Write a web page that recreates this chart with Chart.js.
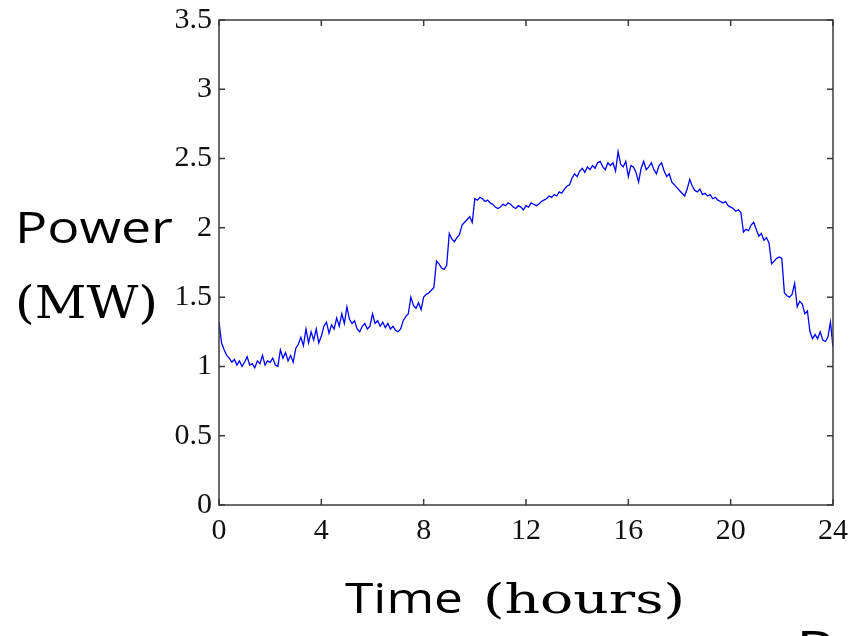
<!DOCTYPE html>
<html>
<head>
<meta charset="utf-8">
<script src="https://cdn.jsdelivr.net/npm/chart.js@4.4.0/dist/chart.umd.min.js"></script>
<style>
html, body { margin: 0; padding: 0; background: #fff; }
#wrap { position: relative; width: 852px; height: 636px; }
</style>
</head>
<body>
<div id="wrap"><canvas id="load-chart" width="852" height="636"></canvas></div>
<script>
// 1日の電力負荷 (0.1時間ごと, 図から読み取り)
const times = [
  0.0, 0.1, 0.2, 0.3, 0.4, 0.5, 0.6, 0.7, 0.8, 0.9,
  1.0, 1.1, 1.2, 1.3, 1.4, 1.5, 1.6, 1.7, 1.8, 1.9,
  2.0, 2.1, 2.2, 2.3, 2.4, 2.5, 2.6, 2.7, 2.8, 2.9,
  3.0, 3.1, 3.2, 3.3, 3.4, 3.5, 3.6, 3.7, 3.8, 3.9,
  4.0, 4.1, 4.2, 4.3, 4.4, 4.5, 4.6, 4.7, 4.8, 4.9,
  5.0, 5.1, 5.2, 5.3, 5.4, 5.5, 5.6, 5.7, 5.8, 5.9,
  6.0, 6.1, 6.2, 6.3, 6.4, 6.5, 6.6, 6.7, 6.8, 6.9,
  7.0, 7.1, 7.2, 7.3, 7.4, 7.5, 7.6, 7.7, 7.8, 7.9,
  8.0, 8.1, 8.2, 8.3, 8.4, 8.5, 8.6, 8.7, 8.8, 8.9,
  9.0, 9.1, 9.2, 9.3, 9.4, 9.5, 9.6, 9.7, 9.8, 9.9,
  10.0, 10.1, 10.2, 10.3, 10.4, 10.5, 10.6, 10.7, 10.8, 10.9,
  11.0, 11.1, 11.2, 11.3, 11.4, 11.5, 11.6, 11.7, 11.8, 11.9,
  12.0, 12.1, 12.2, 12.3, 12.4, 12.5, 12.6, 12.7, 12.8, 12.9,
  13.0, 13.1, 13.2, 13.3, 13.4, 13.5, 13.6, 13.7, 13.8, 13.9,
  14.0, 14.1, 14.2, 14.3, 14.4, 14.5, 14.6, 14.7, 14.8, 14.9,
  15.0, 15.1, 15.2, 15.3, 15.4, 15.5, 15.6, 15.7, 15.8, 15.9,
  16.0, 16.1, 16.2, 16.3, 16.4, 16.5, 16.6, 16.7, 16.8, 16.9,
  17.0, 17.1, 17.2, 17.3, 17.4, 17.5, 17.6, 17.7, 17.8, 17.9,
  18.0, 18.1, 18.2, 18.3, 18.4, 18.5, 18.6, 18.7, 18.8, 18.9,
  19.0, 19.1, 19.2, 19.3, 19.4, 19.5, 19.6, 19.7, 19.8, 19.9,
  20.0, 20.1, 20.2, 20.3, 20.4, 20.5, 20.6, 20.7, 20.8, 20.9,
  21.0, 21.1, 21.2, 21.3, 21.4, 21.5, 21.6, 21.7, 21.8, 21.9,
  22.0, 22.1, 22.2, 22.3, 22.4, 22.5, 22.6, 22.7, 22.8, 22.9,
  23.0, 23.1, 23.2, 23.3, 23.4, 23.5, 23.6, 23.7, 23.8, 23.9,
  24.0
];

const power = [
  1.32, 1.17, 1.12, 1.08, 1.06, 1.03, 1.05, 1.01, 1.04, 1.00,
  1.03, 1.07, 1.01, 1.02, 0.99, 1.04, 1.02, 1.08, 1.01, 1.04,
  1.03, 1.06, 1.01, 1.00, 1.12, 1.06, 1.10, 1.04, 1.08, 1.03,
  1.13, 1.16, 1.21, 1.15, 1.27, 1.17, 1.25, 1.19, 1.27, 1.17,
  1.22, 1.29, 1.32, 1.24, 1.30, 1.27, 1.35, 1.29, 1.38, 1.31,
  1.43, 1.34, 1.31, 1.33, 1.27, 1.25, 1.29, 1.31, 1.27, 1.29,
  1.38, 1.31, 1.33, 1.29, 1.32, 1.28, 1.31, 1.27, 1.29, 1.26,
  1.25, 1.27, 1.33, 1.36, 1.38, 1.50, 1.44, 1.42, 1.46, 1.41,
  1.50, 1.52, 1.53, 1.55, 1.57, 1.76, 1.74, 1.71, 1.70, 1.73,
  1.96, 1.92, 1.90, 1.93, 1.95, 2.02, 2.04, 2.06, 2.08, 2.04,
  2.21, 2.20, 2.22, 2.21, 2.19, 2.20, 2.18, 2.17, 2.15, 2.14,
  2.15, 2.17, 2.16, 2.18, 2.17, 2.15, 2.14, 2.16, 2.15, 2.13,
  2.16, 2.15, 2.18, 2.17, 2.16, 2.17, 2.19, 2.20, 2.21, 2.23,
  2.22, 2.24, 2.23, 2.26, 2.25, 2.28, 2.30, 2.31, 2.36, 2.39,
  2.37, 2.41, 2.43, 2.40, 2.44, 2.42, 2.45, 2.43, 2.47, 2.48,
  2.44, 2.42, 2.47, 2.45, 2.47, 2.41, 2.55, 2.46, 2.44, 2.48,
  2.37, 2.45, 2.44, 2.40, 2.33, 2.43, 2.48, 2.42, 2.44, 2.47,
  2.42, 2.39, 2.45, 2.47, 2.41, 2.37, 2.39, 2.33, 2.31, 2.29,
  2.27, 2.25, 2.23, 2.28, 2.35, 2.30, 2.27, 2.26, 2.28, 2.24,
  2.25, 2.23, 2.24, 2.21, 2.22, 2.20, 2.19, 2.18, 2.19, 2.16,
  2.15, 2.14, 2.12, 2.13, 2.11, 1.97, 1.99, 1.98, 2.02, 2.04,
  1.99, 1.94, 1.96, 1.91, 1.93, 1.89, 1.74, 1.76, 1.78, 1.79,
  1.78, 1.53, 1.51, 1.50, 1.52, 1.60, 1.43, 1.47, 1.45, 1.38,
  1.40, 1.25, 1.20, 1.23, 1.20, 1.25, 1.19, 1.18, 1.21, 1.32,
  1.14
];

const xTicks = [0, 4, 8, 12, 16, 20, 24];
const yTicks = [0, 0.5, 1, 1.5, 2, 2.5, 3, 3.5];
const yTitle = ['Power', '(MW)'];
const xTitle = ['Time', '(hours)'];

// テキストを指定幅に横方向だけ伸ばして描く
function fitText(ctx, text, font, x, base, w) {
    ctx.font = font;
    const k = w / ctx.measureText(text).width;
    ctx.save();
    ctx.translate(x, base);
    ctx.scale(k, 1);
    ctx.fillText(text, 0, 0);
    ctx.restore();
}

// ラベルのはみ出し分の余白を消す (枠の位置を固定するため)
function noOverflow(s) {
    s.paddingTop = 0;
    s.paddingBottom = 0;
    s.paddingLeft = 0;
    s.paddingRight = 0;
}

// 枠線と内向きの目盛り
const boxTicks = {
    id: 'boxTicks',
    afterDatasetsDraw(chart) {
        const { ctx, chartArea: a, scales: { x, y } } = chart;
        ctx.save();
        ctx.strokeStyle = '#3a3a3a';
        ctx.lineWidth = 1.5;
        ctx.strokeRect(a.left, a.top, a.right - a.left, a.bottom - a.top);
        ctx.beginPath();
        xTicks.forEach(v => {
            const px = x.getPixelForValue(v);
            ctx.moveTo(px, a.bottom); ctx.lineTo(px, a.bottom - 6);
            ctx.moveTo(px, a.top); ctx.lineTo(px, a.top + 6);
        });
        yTicks.forEach(v => {
            const py = y.getPixelForValue(v);
            ctx.moveTo(a.left, py); ctx.lineTo(a.left + 6, py);
            ctx.moveTo(a.right, py); ctx.lineTo(a.right - 6, py);
        });
        ctx.stroke();
        ctx.restore();
    }
};

// 軸タイトル (スライド上の文字)
const titles = {
    id: 'titles',
    afterDraw(chart) {
        const ctx = chart.ctx;
        ctx.save();
        ctx.fillStyle = '#000';
        ctx.textBaseline = 'alphabetic';
        ctx.textAlign = 'left';
        fitText(ctx, yTitle[0], '43px "Open Sans"', 15, 243, 158);
        fitText(ctx, yTitle[1], '44px "DejaVu Serif"', 15, 318, 143);
        fitText(ctx, xTitle[0], '42px "Open Sans"', 345, 613, 118);
        fitText(ctx, xTitle[1], '41px "DejaVu Serif"', 483, 613, 202);
        fitText(ctx, 'P', '50px "Open Sans"', 796, 666, 38);
        ctx.restore();
    }
};

const tickFont = { family: '"Liberation Serif", "Times New Roman", serif', size: 30 };

new Chart(document.getElementById('load-chart'), {
    type: 'line',
    data: {
        datasets: [{
            data: times.map((t, i) => ({ x: t, y: power[i] })),
            borderColor: '#0000ff',
            borderWidth: 1.3,
            pointRadius: 0,
            tension: 0,
            fill: false
        }]
    },
    options: {
        responsive: false,
        animation: false,
        layout: { padding: { top: 20, right: 19, left: 0, bottom: 0 } },
        plugins: { legend: { display: false }, tooltip: { enabled: false } },
        scales: {
            x: {
                type: 'linear',
                min: 0,
                max: 24,
                afterBuildTicks: s => { s.ticks = xTicks.map(v => ({ value: v })); },
                afterFit: s => { s.height = 131; noOverflow(s); },
                grid: { display: false, drawTicks: false },
                border: { display: false },
                ticks: { font: tickFont, color: '#111', padding: 8, maxRotation: 0, autoSkip: false,
                         callback: v => String(v) }
            },
            y: {
                min: 0,
                max: 3.5,
                afterBuildTicks: s => { s.ticks = yTicks.map(v => ({ value: v })); },
                afterFit: s => { s.width = 219; noOverflow(s); },
                grid: { display: false, drawTicks: false },
                border: { display: false },
                ticks: { font: tickFont, color: '#111', padding: 7, callback: v => String(v) }
            }
        }
    },
    plugins: [boxTicks, titles]
});
</script>
</body>
</html>
